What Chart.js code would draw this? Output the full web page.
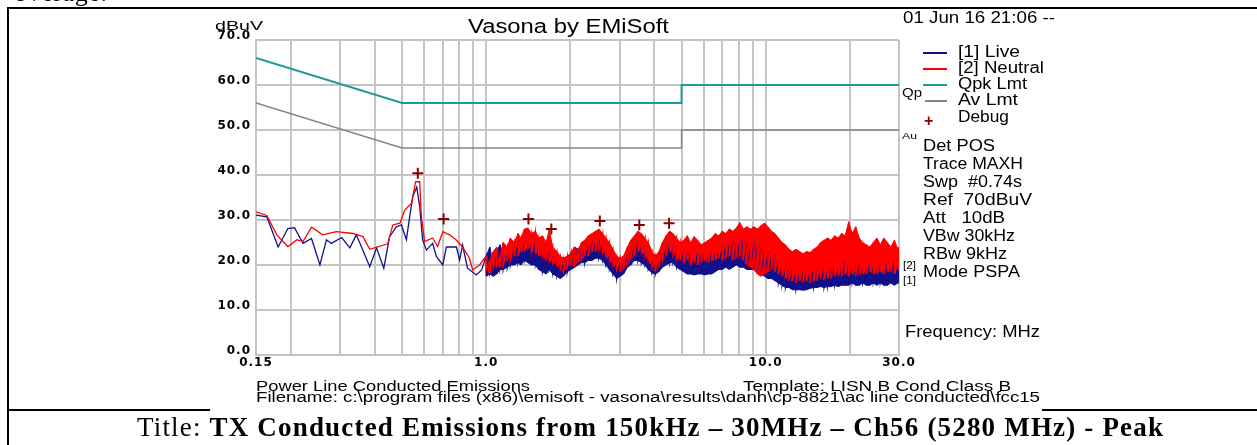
<!DOCTYPE html>
<html><head><meta charset="utf-8">
<script src="https://cdn.jsdelivr.net/npm/chart.js@4.4.1/dist/chart.umd.min.js"></script>
<style>
html,body{margin:0;padding:0;background:#fff;width:1257px;height:445px;overflow:hidden;position:relative;}
.abs{position:absolute;white-space:pre;color:#000;transform-origin:0 0;}
.ln{position:absolute;background:#000;}
#c{position:absolute;left:0;top:0;}
</style></head><body>
<div class="ln" style="left:7px;top:7px;width:1250px;height:2px"></div>
<div class="ln" style="left:7px;top:7px;width:2px;height:438px"></div>
<div class="ln" style="left:7px;top:409px;width:203px;height:2px"></div>
<div class="ln" style="left:1042px;top:409px;width:215px;height:2px"></div>
<canvas id="c" width="1257" height="445"></canvas>
<script>
// ---------------- data ----------------
const xGridValues = [0.15,0.2,0.3,0.4,0.5,0.6,0.7,0.8,0.9,1,2,3,4,5,6,7,8,9,10,20,30];
const xTickValues = [0.15, 1, 10, 30];
const xTickLabels = ['0.15', '1.0', '10.0', '30.0'];
const yTickValues = [0,10,20,30,40,50,60,70];
const yTickLabels = ['0.0','10.0','20.0','30.0','40.0','50.0','60.0','70.0'];

// limit lines (MHz, dBuV)
const limitFreq = [0.15, 0.5, 5, 5, 30];
const qpkLimit  = [66, 56, 56, 60, 60];
const avLimit   = [56, 46, 46, 50, 50];

// debug markers
const debugFreq = [0.569, 0.704, 1.416, 1.71, 2.55, 3.53, 4.51];
const debugVals = [40.4, 30.2, 30.2, 28.0, 29.8, 28.9, 29.3];

// low-frequency part of traces
const neutralLowFreq = [0.150,0.164,0.178,0.195,0.210,0.221,0.237,0.260,0.291,0.333,0.362,0.383,0.444,0.463,0.491,0.511,0.540,0.559,0.578,0.586,0.602,0.643,0.670,0.699,0.740,0.783,0.823,0.871,0.894,0.946];
const neutralLow = [31.8,31.0,26.7,24.1,25.6,25.2,28.4,26.7,27.4,27.0,26.3,23.5,24.7,28.9,29.3,32.2,33.7,38.5,38.5,30.7,25.2,26.0,24.1,27.4,26.7,25.5,24.0,21.5,18.9,20.0];
const liveLowFreq = [0.150,0.164,0.180,0.195,0.206,0.221,0.237,0.254,0.268,0.279,0.304,0.325,0.343,0.383,0.405,0.430,0.451,0.477,0.497,0.518,0.532,0.546,0.564,0.578,0.592,0.611,0.643,0.663,0.699,0.720,0.782,0.803,0.823,0.857,0.921,0.963];
const liveLow = [31.1,30.7,24.0,28.1,28.3,24.8,25.9,20.0,25.6,24.8,26.1,23.8,26.7,19.6,23.8,19.3,26.3,28.5,28.9,25.6,30.7,35.2,37.3,33.0,25.6,23.3,24.8,21.9,20.0,24.0,24.0,21.1,24.4,19.3,17.8,18.9];

// dense part (1 - 30 MHz): per-bin max / min of the sweep
const denseFreq = [
 1.00,1.03,1.06,1.09,1.12,1.15,1.19,1.22,1.26,1.30,
 1.33,1.37,1.41,1.45,1.50,1.54,1.59,1.64,1.68,1.73,
 1.79,1.84,1.89,1.95,2.01,2.07,2.13,2.19,2.25,2.32,
 2.39,2.46,2.53,2.61,2.68,2.76,2.84,2.93,3.02,3.10,
 3.20,3.29,3.39,3.49,3.59,3.70,3.80,3.92,4.03,4.15,
 4.27,4.40,4.53,4.66,4.80,4.94,5.09,5.24,5.39,5.55,
 5.71,5.88,6.05,6.23,6.41,6.60,6.79,6.99,7.20,7.41,
 7.63,7.85,8.08,8.32,8.56,8.82,9.07,9.34,9.61,9.90,
 10.19,10.49,10.79,11.11,11.44,11.77,12.12,12.47,12.84,13.22,
 13.61,14.00,14.41,14.84,15.27,15.72,16.18,16.66,17.15,17.65,
 18.17,18.70,19.25,19.82,20.40,21.00,21.62,22.25,22.91,23.58,
 24.27,24.99,25.72,26.48,27.25,28.05,28.88,29.72,30.00];
const neutralHi = [
 22,21,23,24,22,25,24,26,25,27,
 26,28,28.2,27,27.5,26,26.5,25,27.8,24,
 23,22,21.5,22,22.5,24,23,25,25.5,26.5,
 27,27.5,28,27,26,25,23.5,22,21.5,22,
 24,25.5,26.5,27.5,27,26,25,23,22,23,
 25,26.5,27.5,27,26,25,25.5,26.5,25,26.3,
 25.5,24.5,25,25.5,26,27,26.5,27.5,27,28,
 27.5,28.2,29.4,28,28.5,28,28.5,28,28.7,29.3,
 28.5,27.5,27,26,25,24.5,23.5,23,23.5,23,
 22.5,23,22.8,23.5,24,25,25.5,26,25.5,26.5,
 26,27,26.5,29.6,27,28.5,26,25,24.5,24,
 25,26,24.5,26,25,24,25.5,23.5,24];
const neutralLo = [
 19,18,19,20,19.5,20,21,21,22,22,
 23,23,24,23,23,22,22,21,21,20.5,
 20,19,18.5,19.5,20,20,20.5,21,22,22,
 23,23,23.5,23,22,21,20,19,18.5,19,
 20,21,22,23,23,22,21,19.5,18.5,19.5,
 20.5,22,23,22.5,21.5,21,20.5,21,20,20.5,
 20,20.5,21,20.5,21,21,21.5,21,21.5,22,
 21,21.5,22,21,20,19.5,19,18,17.5,18,
 18.5,19,18.5,18,17.5,17,16.5,16.5,16,16.5,
 16,16.5,16,16.5,16.5,17,16.8,17,17,17.5,
 17.5,17.5,18,17.5,18,17.5,18,18,18,18.5,
 18,18,18.5,18,18.5,18.5,18,19,19];
const liveHi = [
 22,24,20,23,24.5,22,23,22.5,24,25,
 23,25,24,24.5,25,23,24,22,23,21.5,
 21,20,21,22,22.5,24,23.5,24.5,25,24.5,
 25.5,25,25.6,24.5,23,22,21,20.5,21,21.5,
 23,24,25.5,25,24,23,22,20.5,20,21,
 22.5,24,24.8,24,23,22,23,22.5,23.3,22,
 23,22.5,23,22,23,22.5,23.5,24,25,24.5,
 26,26.3,25.5,27,26,25.5,26,25,24,23.3,
 23,22,22.5,21,19.5,19,18.5,19,18.5,18,
 18.5,19,18.5,19,18.5,19,19.5,18.5,19,20,
 19,19.5,21,20,19.5,19,20,19.5,19,20.5,
 19.5,19,20,19,20.5,19.5,21,20,19.5];
const liveLo = [
 17.5,18,17.5,18,19,19,19.5,20,20,20.5,
 20,21,20.5,20,20,19,18.5,18,19,18,
 17.5,17,17.5,18.5,19,19.5,20,20.5,20.5,21,
 21,21.5,21.5,21,20,19,18,17,17.5,18,
 19.5,20,21,21,20.5,20,19,18.2,18,18.5,
 19.5,20,20.5,20.5,19.5,19,18.5,18,18,17.8,
 18,18,17.8,18,18,18.5,19,19,19.5,19,
 19.5,20,19.5,19.5,19,19,19,18.5,18,17.5,
 17,17,16.5,16,15.5,15,15,14.5,14.5,14.5,
 14.4,14.5,14.8,15,15,15.2,15,15.2,15.2,15.5,
 15.2,15.5,15.5,15.5,16,15.5,15.5,16,15.5,15.5,
 16,15.5,16,15.5,15.5,16,15.5,16,16];

// ---------------- build point tables ----------------
function pts(fr, vals){ return fr.map((f,i)=>({x:f,y:vals[i]})); }
function trace(lowF, lowV, hi, lo){
  const out = pts(lowF, lowV);
  denseFreq.forEach((f,i)=>{ out.push({x:f,y:hi[i]}); out.push({x:f,y:lo[i]}); });
  return out;
}
const RED = '#ff0000', NAVY = '#10108a', TEAL = '#1f9a9a', GRAY = '#858585', DEBUG = '#8b0000';
const lineDs = (label, data, color, width, order, extra) =>
  Object.assign({label, data, borderColor:color, backgroundColor:color, borderWidth:width, pointRadius:0, order, fill:false}, extra||{});

// drawing order: higher "order" is drawn first (underneath)
const datasets = [
  {label:'Debug', data:pts(debugFreq, debugVals), showLine:false, pointStyle:'cross', pointRadius:5.5, pointBorderWidth:2, borderColor:DEBUG, backgroundColor:DEBUG, order:0},
  lineDs('[2] Neutral', trace(neutralLowFreq, neutralLow, neutralHi, neutralLo), RED, 1.3, 1),
  lineDs('[1] Live', trace(liveLowFreq, liveLow, liveHi, liveLo), NAVY, 1.3, 2),
  lineDs('Neutral max', pts(denseFreq, neutralHi), RED, 1, 3, {fill:'+1'}),
  lineDs('Neutral min', pts(denseFreq, neutralLo), RED, 1, 4),
  lineDs('Live max', pts(denseFreq, liveHi), NAVY, 1, 5, {fill:'+1'}),
  lineDs('Live min', pts(denseFreq, liveLo), NAVY, 1, 6),
  lineDs('Qpk Lmt', pts(limitFreq, qpkLimit), TEAL, 2, 7),
  lineDs('Av Lmt', pts(limitFreq, avLimit), GRAY, 1.5, 8)
];

const tickFont = {family:'"DejaVu Sans", "Liberation Sans", sans-serif', size:12, weight:'bold'};
const spacingPlugin = {
  id:'spacing',
  beforeDraw(chart){ chart.ctx.letterSpacing = '1px'; },
  afterDraw(chart){ chart.ctx.letterSpacing = '0px'; }
};

new Chart(document.getElementById('c'), {
  type:'line',
  data:{datasets},
  options:{
    responsive:false, animation:false, devicePixelRatio:1,
    layout:{padding:{left:196, top:40, right:358, bottom:70}},
    plugins:{legend:{display:false}, tooltip:{enabled:false}, title:{display:false}},
    elements:{line:{tension:0}},
    scales:{
      x:{type:'logarithmic', min:0.15, max:30,
         afterBuildTicks:s=>{ s.ticks = xGridValues.map(v=>({value:v})); },
         afterFit:s=>{ s.height = 20; },
         ticks:{autoSkip:false, maxRotation:0, minRotation:0, color:'#000', font:tickFont, padding:1,
           callback:(v,i)=>{ const k = xTickValues.indexOf(xGridValues[i]); return k>=0 ? xTickLabels[k] : ''; }},
         grid:{color:'#c4c4c4', lineWidth:2, drawTicks:false},
         border:{color:'#c4c4c4', width:2}},
      y:{type:'linear', min:0, max:70,
         afterBuildTicks:s=>{ s.ticks = yTickValues.map(v=>({value:v})); },
         afterFit:s=>{ s.width = 60; },
         ticks:{color:'#000', font:tickFont, padding:5, labelOffset:-4,
           callback:(v,i)=>yTickLabels[i]},
         grid:{color:'#c4c4c4', lineWidth:2, drawTicks:false},
         border:{color:'#c4c4c4', width:2}}
    }
  },
  plugins:[spacingPlugin]
});

// ---------------- text ----------------
const SANS = '"Liberation Sans", Arial, sans-serif';
const SERIF = '"Liberation Serif", "Times New Roman", serif';
function txt(html, x, base, size, w, o){
  o = o || {};
  const d = document.createElement('div');
  d.className = 'abs';
  d.innerHTML = html;
  d.style.font = (o.bold?'bold ':'') + size + 'px ' + (o.serif?SERIF:SANS);
  d.style.lineHeight = size + 'px';
  d.style.left = x + 'px';
  d.style.top = (base - (o.serif?0.8375:0.8465)*size) + 'px';
  document.body.appendChild(d);
  if (w){
    const nat = d.getBoundingClientRect().width;
    if (o.serif){
      const n = d.textContent.length;
      d.style.letterSpacing = ((w-nat)/(n-1)) + 'px';
    } else {
      d.style.transform = 'scaleX(' + (w/nat) + ')';
    }
  }
  return d;
}
txt('overage.', 14, 2, 26, 93, {serif:true});
txt('dBuV', 215, 30, 13, 48);
txt('Vasona by EMiSoft', 468, 33, 20, 201);
txt('01 Jun 16 21:06 --', 903, 24, 16, 152);

// legend
const legendItems = ['[1] Live','[2] Neutral','Qpk Lmt','Av Lmt','Debug'];
const legendColors = [NAVY, RED, TEAL, GRAY, DEBUG];
const legendBase = [58, 74, 90, 106, 123];
const legendW = [62, 86, 69, 60, 51];
legendItems.forEach((t,i)=>{
  txt(t, 958, legendBase[i], 16, legendW[i]);
  if (i<4){
    const l = document.createElement('div');
    l.className='ln';
    l.style.background = legendColors[i];
    l.style.left = (i==3?925:923)+'px'; l.style.width=(i==3?22:24)+'px';
    l.style.top = (52 + i*16)+'px'; l.style.height = (i==2?2:1.5)+'px';
    document.body.appendChild(l);
  } else {
    const p = txt('+', 924, 127, 16, 0, {bold:true});
    p.style.color = legendColors[i];
  }
});
txt('Qp', 902, 97, 12, 20);
txt('Au', 902, 140, 9, 15);

const info = ['Det POS','Trace MAXH','Swp  #0.74s','Ref  70dBuV','Att   10dB','VBw 30kHz','RBw 9kHz','Mode PSPA'];
const infoW = [72,100,99,109,82,92,84,97];
info.forEach((t,i)=>txt(t, 923, 152 + i*17.9, 16, infoW[i]));
txt('[2]', 903, 269, 11, 13);
txt('[1]', 903, 284, 11, 13);
txt('Frequency: MHz', 905, 338, 16, 135);

txt('Power Line Conducted Emissions', 256, 391, 14, 274);
txt('Template: LISN B Cond Class B', 743, 391, 14, 268);
txt('Filename: c:\\program files (x86)\\emisoft - vasona\\results\\danh\\cp-8821\\ac line conducted\\fcc15', 256, 402, 14, 784);

txt('Title: <b>TX Conducted Emissions from 150kHz – 30MHz – Ch56 (5280 MHz) - Peak</b>', 137, 437, 27, 1026, {serif:true});
</script>
</body></html>
